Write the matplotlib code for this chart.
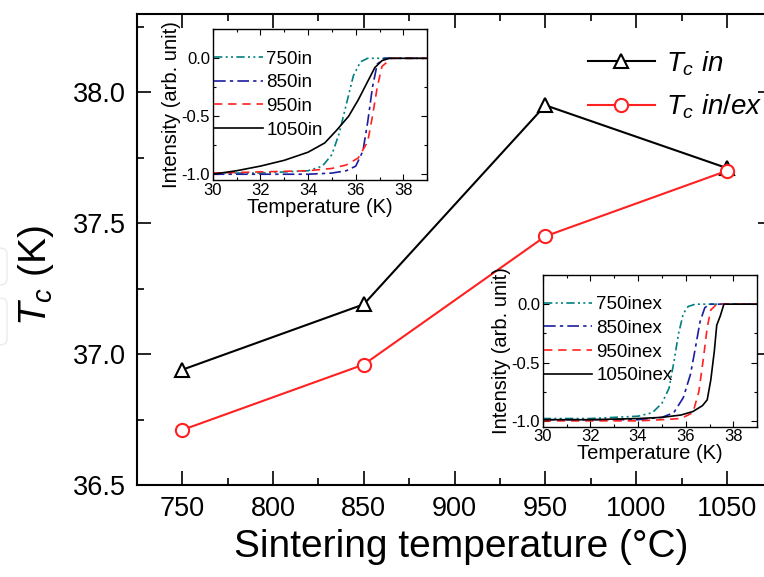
import matplotlib
matplotlib.use('Agg')
import matplotlib.pyplot as plt
from matplotlib.patches import FancyBboxPatch
from matplotlib.ticker import MultipleLocator, FormatStrFormatter

plt.rcParams['font.family'] = ['Liberation Sans', 'DejaVu Sans']
plt.rcParams['mathtext.fontset'] = 'custom'
plt.rcParams['mathtext.rm'] = 'Liberation Sans'
plt.rcParams['mathtext.it'] = 'Liberation Sans:italic'

# Tc vs sintering temperature
sinter_temp = [750, 850, 950, 1050]
tc_in = [36.94, 37.19, 37.95, 37.71]
tc_inex = [36.71, 36.96, 37.45, 37.70]

# transition curves, "in" samples
t_750in = [30, 32, 34, 34.6, 35.0, 35.3, 35.6, 35.9, 36.2, 36.5, 39]
i_750in = [-0.99, -0.99, -0.97, -0.93, -0.83, -0.65, -0.4, -0.15, -0.03, 0, 0]
t_850in = [30, 32, 34, 35, 35.6, 36.0, 36.3, 36.5, 36.7, 36.9, 37.2, 39]
i_850in = [-1.0, -1.0, -1.0, -0.99, -0.97, -0.93, -0.8, -0.55, -0.25, -0.05, 0, 0]
t_950in = [30, 32, 34, 35, 35.6, 36.1, 36.5, 36.7, 36.9, 37.1, 37.5, 39]
i_950in = [-0.99, -0.98, -0.97, -0.95, -0.92, -0.86, -0.72, -0.5, -0.25, -0.07, 0, 0]
t_1050in = [30, 31, 32, 33, 34, 34.7, 35.2, 35.7, 36.1, 36.5, 36.8, 37.1, 37.4, 39]
i_1050in = [-1.0, -0.97, -0.93, -0.88, -0.81, -0.73, -0.62, -0.5, -0.36, -0.2, -0.08, -0.02, 0, 0]

# transition curves, "inex" samples
t_750inex = [30, 32, 34, 34.6, 35.0, 35.3, 35.5, 35.7, 35.9, 36.1, 36.4, 39]
i_750inex = [-0.98, -0.98, -0.96, -0.93, -0.85, -0.72, -0.5, -0.25, -0.08, -0.02, 0, 0]
t_850inex = [30, 32, 34, 35, 35.5, 35.9, 36.2, 36.4, 36.6, 36.8, 37.0, 39]
i_850inex = [-0.99, -0.99, -0.99, -0.97, -0.93, -0.8, -0.6, -0.38, -0.15, -0.03, 0, 0]
t_950inex = [30, 32, 34, 35, 35.8, 36.3, 36.55, 36.75, 36.9, 37.05, 37.3, 39]
i_950inex = [-1.0, -1.0, -1.0, -0.99, -0.98, -0.93, -0.75, -0.45, -0.2, -0.05, 0, 0]
t_1050inex = [30, 32, 34, 35, 35.8, 36.3, 36.7, 36.9, 37.05, 37.2, 37.3, 37.45, 37.6, 39]
i_1050inex = [-0.99, -0.99, -0.98, -0.97, -0.95, -0.92, -0.87, -0.82, -0.65, -0.4, -0.18, -0.1, 0, 0]

teal = '#008080'
navy = '#1c1ca0'
red = '#ff2020'
ls_750 = (0, (5, 2, 1.2, 2, 1.2, 2))
ls_850 = (0, (7, 2.5, 2, 2.5))
ls_950 = (0, (5, 3.5))

fig = plt.figure(figsize=(7.64, 5.77), dpi=100)

# faint rounded boxes in the left margin
for y0, h in [(577 - 285, 37), (577 - 345, 47)]:
    fig.patches.append(FancyBboxPatch((-20 / 764, y0 / 577), 27 / 764, h / 577,
                                      boxstyle='round,pad=0,rounding_size=0.01',
                                      transform=fig.transFigure, fill=False,
                                      ec='#ebebeb', lw=1, zorder=0))

# main axes runs past the right edge of the canvas
ax = fig.add_axes([0.1789, 0.1594, 0.8322, 0.8170])
ax.plot(sinter_temp, tc_in, color='black', lw=1.5, marker='^', ms=10,
        mfc='white', mec='black', mew=1.5, label=r'$T_c$ $in$')
ax.plot(sinter_temp, tc_inex, color=red, lw=1.5, marker='o', ms=9.5,
        mfc='white', mec=red, mew=1.5, label=r'$T_c$ $in/ex$')
ax.set_xlim(725, 1075)
ax.set_ylim(36.5, 38.3)
ax.xaxis.set_major_locator(MultipleLocator(50))
ax.xaxis.set_minor_locator(MultipleLocator(25))
ax.yaxis.set_major_locator(MultipleLocator(0.5))
ax.yaxis.set_minor_locator(MultipleLocator(0.25))
ax.yaxis.set_major_formatter(FormatStrFormatter('%.1f'))
ax.tick_params(which='both', direction='in', top=True, right=True, width=1.2)
ax.tick_params(which='major', length=10, labelsize=19.5, pad=8)
ax.tick_params(which='minor', length=5)
for sp in ax.spines.values():
    sp.set_linewidth(1.5)
ax.set_xlabel('Sintering temperature (°C)', fontsize=28, labelpad=5)
ax.xaxis.label.set_x(0.51)
ax.set_ylabel(r'$T_c$ (K)', fontsize=28)
ax.yaxis.set_label_coords(-0.127, 0.445)
ax.legend(loc='upper left', bbox_to_anchor=(588 / 764, 1 - 49 / 577),
          bbox_transform=fig.transFigure, frameon=False, fontsize=20,
          handlelength=2.4, handletextpad=0.4, borderpad=0, borderaxespad=0,
          labelspacing=0.55)


def style_inset(axi):
    axi.set_xlim(30, 39)
    axi.set_ylim(-1.05, 0.25)
    axi.xaxis.set_major_locator(MultipleLocator(2))
    axi.xaxis.set_minor_locator(MultipleLocator(1))
    axi.yaxis.set_major_locator(MultipleLocator(0.5))
    axi.yaxis.set_minor_locator(MultipleLocator(0.25))
    axi.yaxis.set_major_formatter(FormatStrFormatter('%.1f'))
    axi.tick_params(which='both', direction='in', top=True, right=True, width=0.8)
    axi.tick_params(which='major', length=4, labelsize=12, pad=2)
    axi.tick_params(which='minor', length=2)
    for sp in axi.spines.values():
        sp.set_linewidth(1)
    axi.set_xlabel('Temperature (K)', fontsize=14.5, labelpad=0)
    axi.set_ylabel('Intensity (arb. unit)', fontsize=14.5, labelpad=0)


ax1 = fig.add_axes([0.2784, 0.6880, 0.2809, 0.2612])
ax1.plot(t_750in, i_750in, color=teal, lw=1.2, ls=ls_750, label='750in')
ax1.plot(t_850in, i_850in, color=navy, lw=1.2, ls=ls_850, label='850in')
ax1.plot(t_950in, i_950in, color=red, lw=1.2, ls=ls_950, label='950in')
ax1.plot(t_1050in, i_1050in, color='black', lw=1.2, label='1050in')
style_inset(ax1)
ax1.legend(loc='upper left', bbox_to_anchor=(0.005, 0.86), frameon=False,
           fontsize=13.5, handlelength=2.6, handletextpad=0.2, borderpad=0,
           borderaxespad=0, labelspacing=0.35)

ax2 = fig.add_axes([0.7103, 0.2605, 0.2809, 0.2629])
ax2.plot(t_750inex, i_750inex, color=teal, lw=1.2, ls=ls_750, label='750inex')
ax2.plot(t_850inex, i_850inex, color=navy, lw=1.2, ls=ls_850, label='850inex')
ax2.plot(t_950inex, i_950inex, color=red, lw=1.2, ls=ls_950, label='950inex')
ax2.plot(t_1050inex, i_1050inex, color='black', lw=1.2, label='1050inex')
style_inset(ax2)
ax2.legend(loc='upper left', bbox_to_anchor=(0.005, 0.86), frameon=False,
           fontsize=13.5, handlelength=2.6, handletextpad=0.2, borderpad=0,
           borderaxespad=0, labelspacing=0.35)

fig.savefig('out.png', dpi=100)
